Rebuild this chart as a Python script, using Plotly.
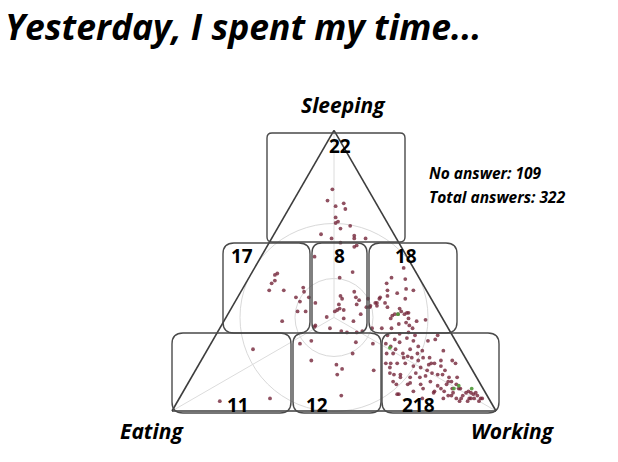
import plotly.graph_objects as go

# ---------------- data ----------------
title_text = "Yesterday, I spent my time..."
axis_names = ["Sleeping", "Eating", "Working"]
box_counts = [22, 17, 8, 18, 11, 12, 218]
no_answer = 109
total_answers = 322

# share of the day (%) : sleeping / eating / working  (main answers)
sleep_pct = [
    79, 75, 74, 73, 72, 69, 67.5, 67, 65, 66, 63, 62.5, 61.5, 61.5, 61.5, 60, 58.5, 59,
    49, 48.5, 46.5, 45.5, 43, 43, 44, 42.5, 40.5, 40.5, 39, 35.5, 35.5, 32, 30,
    22, 4.5, 3.5,
    55, 49.5, 47.5, 42.5, 41, 40, 39.5, 38.5, 38, 38, 36.5, 36, 36, 35.5, 37.5, 34.5, 33.5,
    33, 30.5, 29.5, 28.5, 28.5, 28, 28, 40.5, 32,
    24, 25, 24.5, 24, 20.5, 18, 16.5, 15, 13, 14.5, 5.5,
    51, 47.5, 47, 45.5, 43.5, 43, 43, 42, 41, 40, 40, 40, 38.5, 38.5, 37.5, 37, 37, 36.5,
    35.5, 35, 35, 34.5, 34.5, 34, 34.5, 33, 32.5, 32, 33, 31.5, 30.5, 31, 29.5, 29.5, 29.5,
    28, 29.5, 37, 38.5, 27, 40.5,
    24, 23, 25.5, 24.5, 26, 25, 23, 25, 25.5, 20.5, 20.5, 20.5, 19.5, 19, 20.5, 19, 17, 17,
    17, 17, 17, 16, 15.5, 14.5, 13.5, 13, 13.5, 13, 12, 12, 10.5, 10.5, 9.5, 9.5, 8, 7, 6,
    21.5, 18, 17, 16, 13, 12, 10.5, 9.5, 9.5, 8, 8, 8, 6.5, 7, 6, 6.5, 4.5, 4.5, 5.5, 4.5,
    4.5, 3.5, 5.5, 4.5, 5.5, 4.5, 3.5, 6.5, 12, 7, 3.5, 19, 21.5, 19, 10.5, 8, 6.5, 4.5,
    4.5, 5.5, 6.5, 9.5, 10, 12, 13, 15.5, 17, 6, 7, 4.5, 9, 12.5, 13.5, 14.5, 18, 16.5, 18,
    22, 22, 27, 27.5, 27,
]
eat_pct = [
    11, 14.5, 10, 13, 10.5, 15, 15, 16, 15.5, 12, 22.5, 12.5, 13, 20, 9.5, 18, 14.5, 13.5,
    43, 44, 45, 46.5, 44, 48.5, 37.5, 38, 41.5, 37.5, 41, 43.5, 41, 50, 41,
    64, 67.5, 83.5,
    28.5, 19.5, 24.5, 22.5, 27.5, 27.5, 22.5, 36.5, 24, 29.5, 30, 31, 29, 32, 20, 24.5, 35.5,
    30.5, 40.5, 36.5, 33.5, 27, 32, 29, 23, 28,
    48.5, 44.5, 31, 26, 34, 48, 41, 40, 42.5, 30.5, 45,
    3, 8.5, 4.5, 11, 6, 4, 12, 9.5, 13, 16, 8, 19.5, 17.5, 15, 18, 15, 20.5, 11.5,
    11.5, 10, 9.5, 13, 14, 15, 11, 10.5, 5.5, 8.5, 16, 12, 11.5, 14.5, 20.5, 17.5, 11,
    13, 23.5, 21.5, 18, 4.5, 15.5,
    22, 21, 18.5, 17.5, 14.5, 13, 12.5, 8.5, 6, 23.5, 21.5, 18.5, 17.5, 16.5, 14, 13, 11.5, 10.5,
    24, 22, 19.5, 17.5, 15.5, 14, 13, 11.5, 26, 23, 20.5, 17.5, 15, 26.5, 26, 22.5, 18.5, 15.5, 27,
    5.5, 4.5, 4, 9, 10, 8.5, 8.5, 7.5, 10.5, 13, 9.5, 7.5, 6, 5, 4, 3, 6, 4.5, 3, 2.5,
    2, 7, 7.5, 10, 12, 14, 3.5, 10, 6, 12.5, 9.5, 19, 12, 11, 9.5, 7, 4.5, 5.5,
    8.5, 11, 16, 18.5, 21.5, 23.5, 25, 25, 25.5, 27.5, 22, 20.5, 13.5, 15.5, 18, 8.5, 8, 12.5, 15,
    20, 15.5, 20, 16, 11.5,
]
work_pct = [
    10, 10.5, 16, 14, 17.5, 16, 17.5, 17, 19.5, 22, 14.5, 25, 25.5, 18.5, 29, 22, 27, 27.5,
    8, 7.5, 8.5, 8, 13, 8.5, 18.5, 19.5, 18, 22, 20, 21, 23.5, 18, 29,
    14, 28, 13,
    16.5, 31, 28, 35, 31.5, 32.5, 38, 25, 38, 32.5, 33.5, 33, 35, 32.5, 42.5, 41, 31,
    36.5, 29, 34, 38, 44.5, 40, 43, 36.5, 40,
    27.5, 30.5, 44.5, 50, 45.5, 34, 42.5, 45, 44.5, 55, 49.5,
    46, 44, 48.5, 43.5, 50.5, 53, 45, 48.5, 46, 44, 52, 40.5, 44, 46.5, 44.5, 48, 42.5, 52,
    53, 55, 55.5, 52.5, 51.5, 51, 54.5, 56.5, 62, 59.5, 51, 56.5, 58, 54.5, 50, 53, 59.5,
    59, 47, 41.5, 43.5, 68.5, 44,
    54, 56, 56, 58, 59.5, 62, 64.5, 66.5, 68.5, 56, 58, 61, 63, 64.5, 65.5, 68, 71.5, 72.5,
    59, 61, 63.5, 66.5, 69, 71.5, 73.5, 75.5, 60.5, 64, 67.5, 70.5, 74.5, 63, 64.5, 68, 73.5, 77.5, 67,
    73, 77.5, 79, 75, 77, 79.5, 81, 83, 80, 79, 82.5, 84.5, 87.5, 88, 90, 90.5, 89.5, 91, 91.5, 93,
    93.5, 89.5, 87, 85.5, 82.5, 81.5, 93, 83.5, 82, 80.5, 87, 62, 66.5, 70, 80, 85, 89, 90,
    87, 83.5, 77.5, 72, 68.5, 64.5, 62, 59.5, 57.5, 66.5, 71, 75, 77.5, 72, 68.5, 77, 74, 71, 67,
    58, 62.5, 53, 56.5, 61.5,
]

# a few answers drawn in green
sleep_green = [34.5, 22.5, 8, 9, 8]
eat_green = [13, 21.5, 9, 7, 3.5]
work_green = [52.5, 56, 83, 84, 88.5]

# ---------------- layout helpers (pixel -> paper) ----------------
W, H = 618, 462


def fx(x):
    return x / W


def fy(y):
    return 1 - y / H


def rounded_rect(x0, y0, x1, y1, r):
    pts = [
        ("M", fx(x0 + r), fy(y0)),
        ("L", fx(x1 - r), fy(y0)),
        ("Q", fx(x1), fy(y0), fx(x1), fy(y0 + r)),
        ("L", fx(x1), fy(y1 - r)),
        ("Q", fx(x1), fy(y1), fx(x1 - r), fy(y1)),
        ("L", fx(x0 + r), fy(y1)),
        ("Q", fx(x0), fy(y1), fx(x0), fy(y1 - r)),
        ("L", fx(x0), fy(y0 + r)),
        ("Q", fx(x0), fy(y0), fx(x0 + r), fy(y0)),
    ]
    s = ""
    for p in pts:
        s += p[0] + " " + " ".join(f"{v:.5f}" for v in p[1:]) + " "
    return s + "Z"


# triangle placement (pixels)
TRI_L, TRI_R, TRI_BASE = 172, 496, 411
TRI_H = (TRI_R - TRI_L) * 3 ** 0.5 / 2
TRI_TOP = TRI_BASE - TRI_H
CX = (TRI_L + TRI_R) / 2
CY = TRI_BASE - TRI_H / 3

# boxes: x0, y0, x1, y1, corner radius ; label centre
boxes = [
    (267, 133, 405, 242, 5, 340, 146),
    (223, 243, 310, 333, 11, 242, 256),
    (312, 243, 367, 333, 10, 339, 256),
    (369, 243, 457, 333, 11, 406, 256),
    (172, 333, 291, 413, 11, 238, 405),
    (293, 333, 381, 413, 11, 317, 405),
    (382, 333, 499, 413, 11, 418, 405),
]

fig = go.Figure()

# guide lines from the centre to each corner
fig.add_trace(go.Scatterternary(
    a=[100, 100 / 3, 0, None, 100 / 3, 0],
    b=[0, 100 / 3, 100, None, 100 / 3, 0],
    c=[0, 100 / 3, 0, None, 100 / 3, 100],
    mode="lines", line=dict(color="#dcdcdc", width=1),
    hoverinfo="skip", showlegend=False,
))

fig.add_trace(go.Scatterternary(
    a=sleep_pct, b=eat_pct, c=work_pct,
    mode="markers",
    marker=dict(size=3.8, color="#74263a", opacity=0.8,
                line=dict(width=0)),
    showlegend=False, cliponaxis=False,
))
fig.add_trace(go.Scatterternary(
    a=sleep_green, b=eat_green, c=work_green,
    mode="markers",
    marker=dict(size=3.8, color="#4f9a3a", opacity=0.9),
    showlegend=False, cliponaxis=False,
))

axis_style = dict(showline=True, linecolor="#3d3d3d", linewidth=1.6,
                  showgrid=False, showticklabels=False, ticks="",
                  title=dict(text=""))

shapes = []
# concentric guide circles
for r in (94, 39):
    shapes.append(dict(type="circle", xref="paper", yref="paper",
                       x0=fx(CX - r), x1=fx(CX + r), y0=fy(CY + r), y1=fy(CY - r),
                       line=dict(color="#d9d9d9", width=1), layer="below"))
for (x0, y0, x1, y1, r, lx, ly) in boxes:
    shapes.append(dict(type="path", xref="paper", yref="paper",
                       path=rounded_rect(x0, y0, x1, y1, r),
                       line=dict(color="#4a4a4a", width=1.4), layer="above"))

FONT = "Open Sans"
bold_italic = dict(family=FONT, color="black", weight="bold", style="italic")
annotations = [
    dict(text=title_text, x=fx(3), y=1, xanchor="left", yanchor="top",
         font=dict(size=35.5, **bold_italic)),
    dict(text=axis_names[0], x=fx(343), y=fy(105), xanchor="center", yanchor="middle",
         font=dict(size=21, **bold_italic)),
    dict(text=axis_names[1], x=fx(152), y=fy(431), xanchor="center", yanchor="middle",
         font=dict(size=21, **bold_italic)),
    dict(text=axis_names[2], x=fx(513), y=fy(431), xanchor="center", yanchor="middle",
         font=dict(size=21, **bold_italic)),
    dict(text=f"No answer: {no_answer}", x=fx(427), y=fy(173), xanchor="left",
         yanchor="middle", font=dict(size=15.5, **bold_italic)),
    dict(text=f"Total answers: {total_answers}", x=fx(427), y=fy(197), xanchor="left",
         yanchor="middle", font=dict(size=15.5, **bold_italic)),
]
for (x0, y0, x1, y1, r, lx, ly), n in zip(boxes, box_counts):
    annotations.append(dict(text=str(n), x=fx(lx), y=fy(ly), xanchor="center",
                            yanchor="middle",
                            font=dict(family=FONT, size=19, color="black",
                                      weight="bold")))
for a in annotations:
    a.update(xref="paper", yref="paper", showarrow=False)

fig.update_layout(
    width=W, height=H,
    margin=dict(l=0, r=0, t=0, b=0),
    paper_bgcolor="white", plot_bgcolor="white",
    ternary=dict(
        sum=100,
        domain=dict(x=[fx(TRI_L), fx(TRI_R)], y=[fy(TRI_BASE), fy(TRI_TOP)]),
        bgcolor="rgba(0,0,0,0)",
        aaxis=axis_style, baxis=axis_style, caxis=axis_style,
    ),
    shapes=shapes,
    annotations=annotations,
    showlegend=False,
)

fig.write_html("out.html", config={"displayModeBar": False},
               post_script="document.body.style.margin='0px';")
